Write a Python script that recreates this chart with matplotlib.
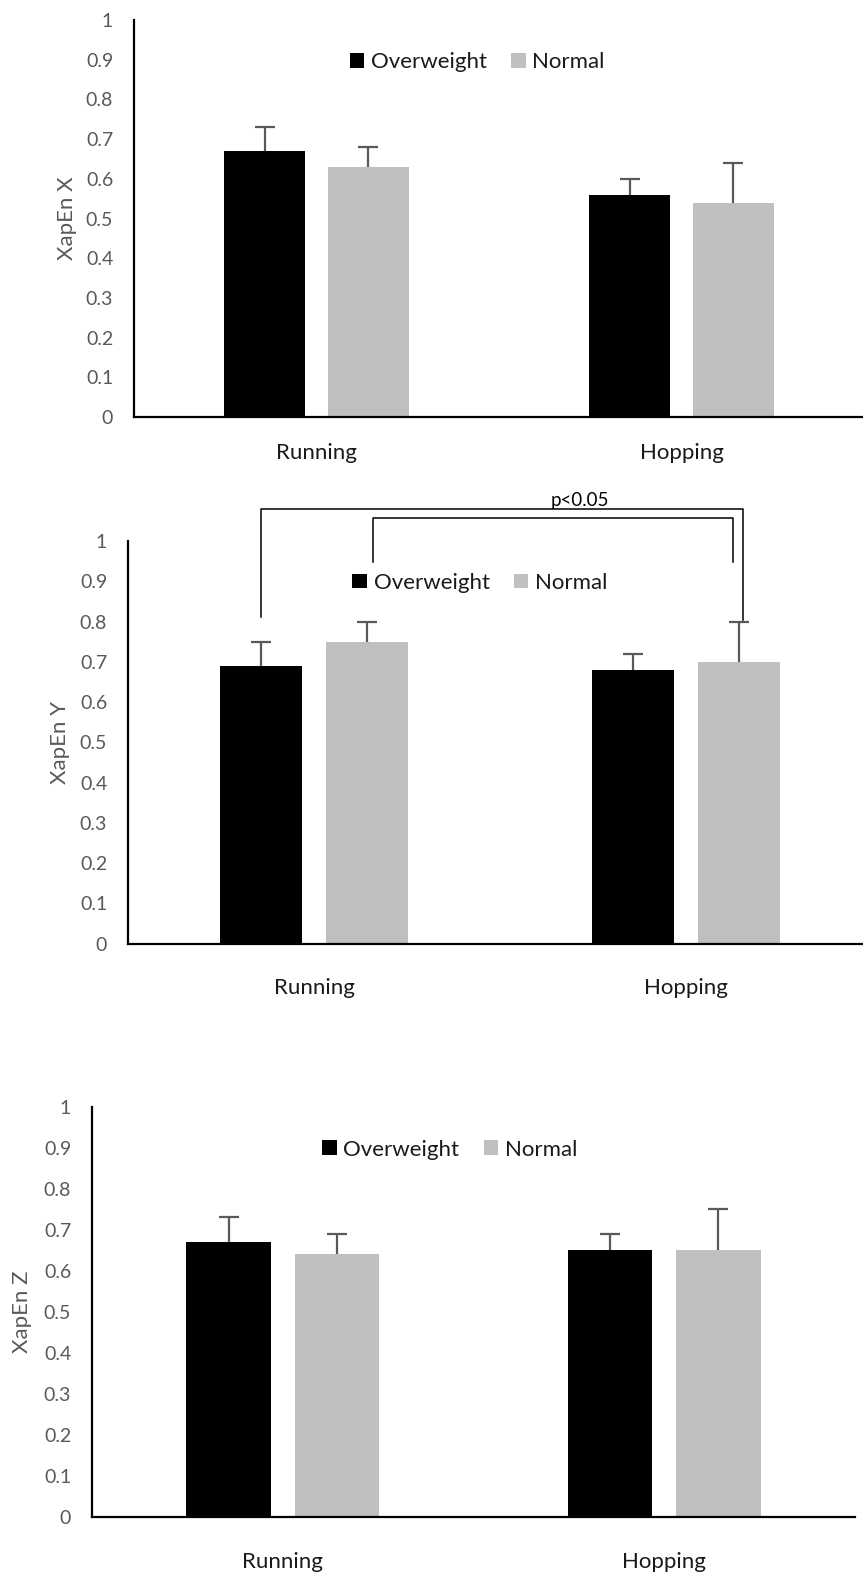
import matplotlib
matplotlib.use("Agg")
from matplotlib import pyplot as plt
import numpy as np

plt.rcParams['font.family'] = ['Lato', 'DejaVu Sans']

categories = ["Running", "Hopping"]
groups = ["Overweight", "Normal"]

# XapEn X
x_over = [0.67, 0.56]
x_over_err = [0.06, 0.04]
x_norm = [0.63, 0.54]
x_norm_err = [0.05, 0.10]

# XapEn Y
y_over = [0.69, 0.68]
y_over_err = [0.06, 0.04]
y_norm = [0.75, 0.70]
y_norm_err = [0.05, 0.10]

# XapEn Z
z_over = [0.67, 0.65]
z_over_err = [0.06, 0.04]
z_norm = [0.64, 0.65]
z_norm_err = [0.05, 0.10]

yticks = [0, 0.1, 0.2, 0.3, 0.4, 0.5, 0.6, 0.7, 0.8, 0.9, 1]
ytick_labels = ["0", "0.1", "0.2", "0.3", "0.4", "0.5", "0.6", "0.7", "0.8", "0.9", "1"]

W, H = 863, 1573
fig = plt.figure(figsize=(W / 100, H / 100), dpi=100)

def px_axes(left, right, y0, y1):
    return fig.add_axes([left / W, 1 - y0 / H, (right - left) / W, (y0 - y1) / H])

def draw_panel(ax, over, over_err, norm, norm_err, ylabel, label_pad, leg_xy):
    x = np.arange(len(categories))
    w = 0.222
    off = 0.142
    ekw = dict(ecolor='#595959', elinewidth=1.6, capsize=7, capthick=1.6)
    for vals, errs, pos, col, lab in [(over, over_err, x - off, 'black', groups[0]),
                                      (norm, norm_err, x + off, '#bfbfbf', groups[1])]:
        b = ax.bar(pos, vals, w, color=col, label=lab,
                   yerr=[np.zeros(2), errs], error_kw=ekw)
        # plus-only error bars: hide the lower caps
        caps = b.errorbar.lines[1]
        if len(caps) > 1:
            caps[0].set_visible(False)
    ax.set_xlim(-0.5, 1.5)
    ax.set_ylim(0, 1)
    ax.set_yticks(yticks)
    ax.set_yticklabels(ytick_labels)
    ax.set_xticks(x)
    ax.set_xticklabels(categories)
    ax.tick_params(axis='y', length=0, pad=15, labelsize=14, labelcolor='#595959')
    ax.tick_params(axis='x', length=0, pad=label_pad, labelsize=16, labelcolor='#1a1a1a')
    for s in ['top', 'right']:
        ax.spines[s].set_visible(False)
    for s in ['left', 'bottom']:
        ax.spines[s].set_linewidth(1.6)
        ax.spines[s].set_color('black')
    ax.text(-0.092, 0.5, ylabel, transform=ax.transAxes, rotation=90,
            ha='center', va='center', fontsize=16, color='#595959')
    ax.legend(loc='center', bbox_to_anchor=leg_xy, ncol=2, frameon=False,
              fontsize=16, handlelength=0.65, handleheight=0.65,
              handletextpad=0.3, columnspacing=1.1, labelcolor='#1a1a1a')

ax1 = px_axes(134, 864, 417, 20)
draw_panel(ax1, x_over, x_over_err, x_norm, x_norm_err, "XapEn X", 19, (0.47, 0.894))

ax2 = px_axes(128, 872, 943.6, 541)
draw_panel(ax2, y_over, y_over_err, y_norm, y_norm_err, "XapEn Y", 25, (0.473, 0.896))

# significance brackets
ax2.plot([-0.142, -0.142, 1.152, 1.152], [0.812, 1.080, 1.080, 0.804],
         color='black', lw=1.1, clip_on=False)
ax2.plot([0.159, 0.159, 1.125, 1.125], [0.948, 1.057, 1.057, 0.948],
         color='black', lw=1.1, clip_on=False)
ax2.text(0.715, 1.10, "p<0.05", ha='center', va='center', fontsize=13.5,
         color='black', clip_on=False)

ax3 = px_axes(92, 855, 1517, 1106.5)
draw_panel(ax3, z_over, z_over_err, z_norm, z_norm_err, "XapEn Z", 25, (0.469, 0.895))

fig.savefig("out.png", dpi=100)
